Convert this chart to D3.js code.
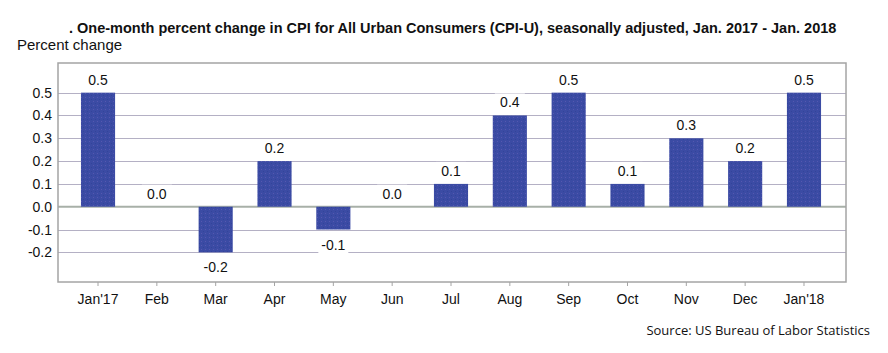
<!DOCTYPE html>
<html><head><meta charset="utf-8">
<script src="https://cdn.jsdelivr.net/npm/d3@7"></script>
<style>body{margin:0;background:#fff}svg{display:block}</style>
</head><body>
<svg id="c" width="888" height="353"></svg>
<script>
const months = ["Jan'17","Feb","Mar","Apr","May","Jun","Jul","Aug","Sep","Oct","Nov","Dec","Jan'18"];
const values = [0.5,0.0,-0.2,0.2,-0.1,0.0,0.1,0.4,0.5,0.1,0.3,0.2,0.5];
const yTicks = [-0.2,-0.1,0.0,0.1,0.2,0.3,0.4,0.5];
const title = ". One-month percent change in CPI for All Urban Consumers (CPI-U), seasonally adjusted, Jan. 2017 - Jan. 2018";
const yTitle = "Percent change";
const source = "Source: US Bureau of Labor Statistics";

const svg = d3.select("#c");
const L = 58, R = 846, T = 63, B = 282;
const y = d3.scaleLinear().domain([-0.33, 0.63]).range([B, T]);
const x = d3.scaleBand().domain(months).range([68.6, 833.4]).paddingInner(0.42).paddingOuter(0.21);
const fmt = d => d.toFixed(1);

const defs = svg.append("defs");
const pat = defs.append("pattern").attr("id","dots").attr("width",4).attr("height",4).attr("patternUnits","userSpaceOnUse");
pat.append("rect").attr("width",4).attr("height",4).attr("fill","#3b4ba4");
pat.append("rect").attr("x",1).attr("y",1).attr("width",1).attr("height",1).attr("fill","#5558b0");
pat.append("rect").attr("x",3).attr("y",3).attr("width",1).attr("height",1).attr("fill","#33439a");

// gridlines
svg.append("g").selectAll("line").data(yTicks.filter(d=>d!==0)).join("line")
  .attr("x1",L).attr("x2",R).attr("y1",d=>Math.round(y(d))+0.5).attr("y2",d=>Math.round(y(d))+0.5)
  .attr("stroke","#b4b0c4").attr("stroke-width",1);
// zero line
svg.append("line").attr("x1",L).attr("x2",R).attr("y1",y(0)).attr("y2",y(0))
  .attr("stroke","#a8b0a8").attr("stroke-width",2);

// bars
svg.append("g").selectAll("rect").data(values).join("rect")
  .attr("x",(d,i)=>x(months[i])).attr("width",x.bandwidth())
  .attr("y",d=>y(Math.max(0,d))).attr("height",d=>Math.abs(y(d)-y(0)))
  .attr("fill","url(#dots)");

// value labels with white backgrounds
const lab = svg.append("g").attr("font-family","Liberation Sans, Arial, sans-serif").attr("font-size",14).attr("fill","#111");
values.forEach((d,i)=>{
  const cx = x(months[i]) + x.bandwidth()/2;
  const cy = d >= 0 ? y(d) - 13 : y(d) + 15;
  lab.append("rect").attr("x",cx-15).attr("y",cy-9).attr("width",30).attr("height",18).attr("fill","#fff");
  lab.append("text").attr("x",cx).attr("y",cy+5).attr("text-anchor","middle").text(fmt(d));
});

// frame
svg.append("rect").attr("x",L).attr("y",T).attr("width",R-L).attr("height",B-T)
  .attr("fill","none").attr("stroke","#a4a4a4").attr("stroke-width",1.5);

// y axis
const ya = svg.append("g").attr("transform",`translate(${L},0)`)
  .call(d3.axisLeft(y).tickValues(yTicks).tickFormat(fmt).tickSize(0).tickPadding(6));
ya.select(".domain").remove();
ya.selectAll("text").attr("font-family","Liberation Sans, Arial, sans-serif").attr("font-size",14).attr("fill","#111");

// x axis
const xa = svg.append("g").attr("transform",`translate(0,${B})`)
  .call(d3.axisBottom(x).tickSize(4).tickPadding(8));
xa.select(".domain").remove();
xa.selectAll("line").attr("stroke","#a4a4a4");
xa.selectAll("text").attr("font-family","Liberation Sans, Arial, sans-serif").attr("font-size",14).attr("fill","#111");

// titles
svg.append("text").attr("x",69).attr("y",33).attr("font-family","Liberation Sans, Arial, sans-serif")
  .attr("font-size",14.5).attr("font-weight","bold").attr("fill","#111").text(title);
svg.append("text").attr("x",17).attr("y",50).attr("font-family","Liberation Sans, Arial, sans-serif")
  .attr("font-size",15).attr("fill","#111").text(yTitle);
svg.append("text").attr("x",870).attr("y",335).attr("text-anchor","end").attr("font-family","Open Sans, DejaVu Sans, sans-serif")
  .attr("font-size",13).attr("fill","#111").text(source);
</script>
</body></html>
